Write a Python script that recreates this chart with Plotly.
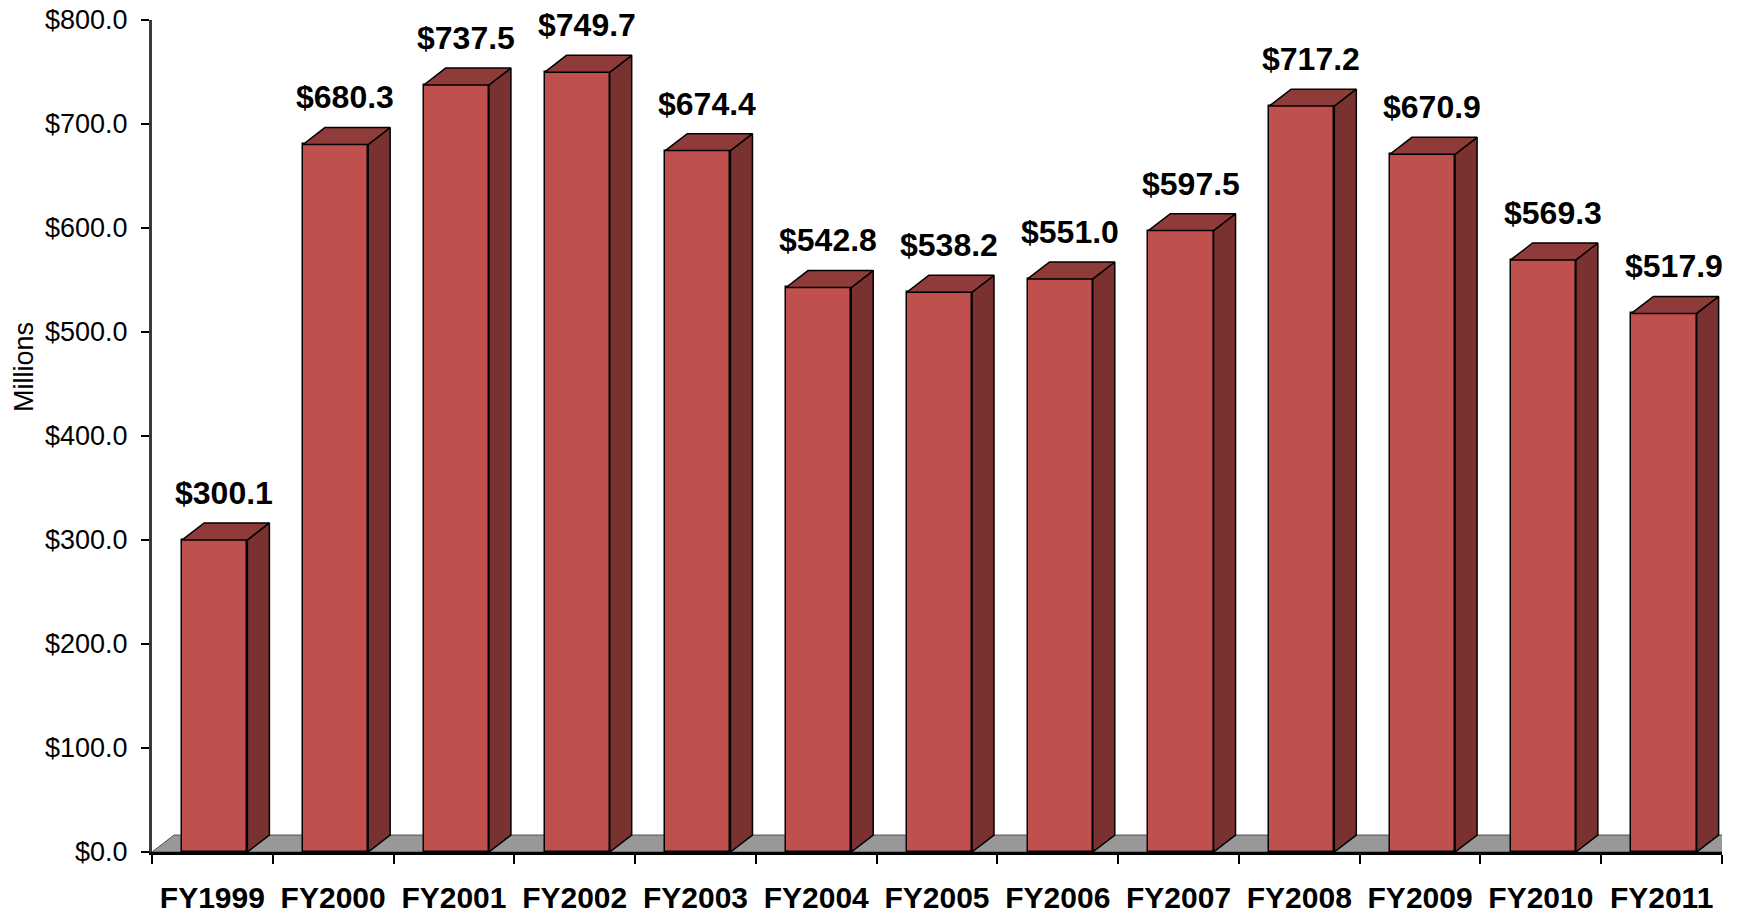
import plotly.graph_objects as go

categories = ["FY1999", "FY2000", "FY2001", "FY2002", "FY2003", "FY2004", "FY2005",
              "FY2006", "FY2007", "FY2008", "FY2009", "FY2010", "FY2011"]
values = [300.1, 680.3, 737.5, 749.7, 674.4, 542.8, 538.2, 551.0, 597.5, 717.2, 670.9, 569.3, 517.9]
y_ticks = [0, 100, 200, 300, 400, 500, 600, 700, 800]
y_tick_labels = [f"${t:.1f}" for t in y_ticks]

FONT = "Arial, Liberation Sans, sans-serif"
FRONT = "#C0504D"
SIDE = "#7A3231"
TOP = "#8E3B39"

BAR_OFFSET = -0.25
BAR_WIDTH = 0.54
DX = 0.182   # depth in category units
DY = 16.3    # depth in value units

xs = list(range(len(categories)))

side_x, side_y, top_x, top_y = [], [], [], []
for x, v in zip(xs, values):
    xl = x + BAR_OFFSET
    xr = xl + BAR_WIDTH
    side_x += [xr, xr + DX, xr + DX, xr, xr, None]
    side_y += [0, DY, v + DY, v, 0, None]
    top_x += [xl, xl + DX, xr + DX, xr, xl, None]
    top_y += [v, v + DY, v + DY, v, v, None]

fig = go.Figure()
fig.add_trace(go.Bar(
    x=xs, y=values, width=BAR_WIDTH, offset=BAR_OFFSET,
    marker=dict(color=FRONT, line=dict(color="black", width=1.5)),
    hoverinfo="skip", showlegend=False,
))
fig.add_trace(go.Scatter(x=side_x, y=side_y, mode="lines", fill="toself",
                         fillcolor=SIDE, line=dict(color="black", width=1.5),
                         hoverinfo="skip", showlegend=False))
fig.add_trace(go.Scatter(x=top_x, y=top_y, mode="lines", fill="toself",
                         fillcolor=TOP, line=dict(color="black", width=1.5),
                         hoverinfo="skip", showlegend=False))

# floor
x0, x1 = -0.5, len(categories) - 0.5
fig.add_shape(type="path",
              path=f"M {x0} 0 L {x0 + DX} {DY} L {x1 + DX} {DY} L {x1} 0 Z",
              xref="x", yref="y", layer="below",
              fillcolor="#989898", line=dict(color="#505050", width=1))

for x, v in zip(xs, values):
    fig.add_annotation(x=x, y=v, text=f"${v:.1f}", showarrow=False,
                       xshift=12, yshift=47, yanchor="middle",
                       font=dict(family=FONT, size=32, color="black", weight="bold"))

# rotated axis title
fig.add_annotation(x=-0.0815, y=0.583, xref="paper", yref="paper",
                   text="Millions", textangle=-90, showarrow=False,
                   xanchor="center", yanchor="middle",
                   font=dict(family=FONT, size=27, color="black"))

fig.update_layout(
    width=1740, height=916,
    margin=dict(l=152, r=18, t=20, b=64, autoexpand=False),
    paper_bgcolor="white", plot_bgcolor="white",
    font=dict(family=FONT, color="black"),
    bargap=0,
)
fig.update_xaxes(
    range=[x0, x1], tickmode="array", tickvals=xs, ticktext=categories,
    ticks="", showgrid=False, zeroline=False, automargin=False,
    showline=True, linecolor="black", linewidth=3,
    tickfont=dict(family=FONT, size=30, color="black", weight="bold"),
    ticklabelstandoff=17, ticklabeloverflow="allow",
    minor=dict(tickmode="array", tickvals=[i - 0.5 for i in range(len(categories) + 1)],
               ticks="outside", ticklen=9, tickwidth=2, tickcolor="black"),
)
fig.update_yaxes(
    range=[0, 800], tickmode="array", tickvals=y_ticks, ticktext=y_tick_labels,
    ticks="outside", ticklen=8, tickwidth=2, tickcolor="black",
    showgrid=False, zeroline=False, automargin=False,
    showline=True, linecolor="#3a3a3a", linewidth=3,
    tickfont=dict(family=FONT, size=27, color="black"),
    ticklabelstandoff=8, ticklabeloverflow="allow",
)

fig.write_html("out.html",
               config=dict(displayModeBar=False),
               post_script="document.body.style.margin='0';document.body.style.overflow='hidden';")
